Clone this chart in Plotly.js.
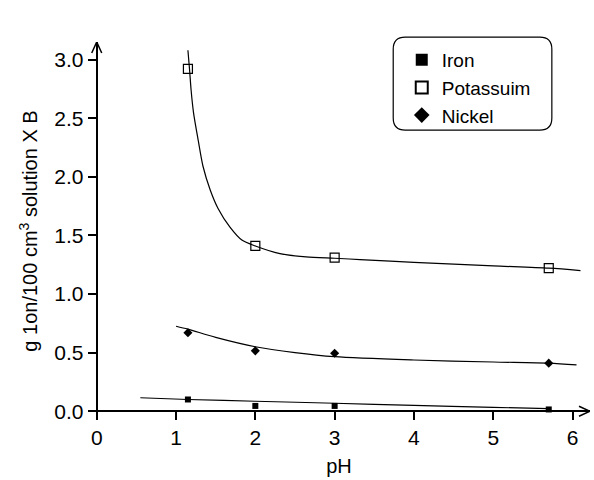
<!DOCTYPE html>
<html>
<head>
<meta charset="utf-8">
<script src="https://cdn.plot.ly/plotly-3.0.1.min.js"></script>
<style>html,body{margin:0;padding:0;background:#fff;}#chart{width:594px;height:480px;}</style>
</head>
<body>
<div id="chart"></div>
<script>
// Measured points
const phPoints = [1.15, 2.0, 3.0, 5.7];
const ironVals = [0.10, 0.045, 0.045, 0.015];
const potassiumVals = [2.92, 1.41, 1.31, 1.22];
const nickelVals = [0.67, 0.515, 0.495, 0.41];

// Fitted curves
const ironFitX = [0.55, 1.15, 2.0, 3.0, 4.0, 5.0, 5.7];
const ironFitY = [0.115, 0.10, 0.085, 0.068, 0.05, 0.033, 0.022];
const potFitX = [1.15, 1.17, 1.19, 1.22, 1.28, 1.34, 1.43, 1.53, 1.68, 1.83, 2.0, 2.31, 2.64, 3.0, 3.32, 4.0, 5.0, 5.7, 6.1];
const potFitY = [3.08, 2.92, 2.74, 2.55, 2.31, 2.09, 1.89, 1.73, 1.57, 1.46, 1.41, 1.345, 1.317, 1.305, 1.294, 1.27, 1.24, 1.22, 1.20];
const niFitX = [1.0, 1.15, 1.5, 2.0, 2.5, 3.0, 4.0, 5.0, 5.7, 6.05];
const niFitY = [0.725, 0.70, 0.63, 0.55, 0.50, 0.465, 0.437, 0.42, 0.41, 0.395];

const xTicks = [0, 1, 2, 3, 4, 5, 6];
const yTicks = [0.0, 0.5, 1.0, 1.5, 2.0, 2.5, 3.0];

const xr = [-0.11, 6.22];
const yr = [-0.075, 3.15];

const lineStyle = {color: '#000', width: 1.2, shape: 'spline', smoothing: 0.8};
const traces = [
  {x: ironFitX, y: ironFitY, mode: 'lines', line: lineStyle, showlegend: false, hoverinfo: 'skip'},
  {x: potFitX, y: potFitY, mode: 'lines', line: lineStyle, showlegend: false, hoverinfo: 'skip'},
  {x: niFitX, y: niFitY, mode: 'lines', line: lineStyle, showlegend: false, hoverinfo: 'skip'},
  {x: phPoints, y: ironVals, mode: 'markers', name: 'Iron',
   marker: {symbol: 'square', size: 6, color: '#000'}},
  {x: phPoints, y: potassiumVals, mode: 'markers', name: 'Potassuim',
   marker: {symbol: 'square-open', size: 9, color: '#000', line: {width: 1.2}}},
  {x: phPoints, y: nickelVals, mode: 'markers', name: 'Nickel',
   marker: {symbol: 'diamond', size: 7, color: '#000'}}
];

const fam = 'Liberation Sans, Arial, sans-serif';
const tickFont = {family: fam, size: 21, color: '#000'};
const titleFont = {family: fam, size: 20, color: '#000'};
const legFont = {family: fam, size: 19, color: '#000'};
const x0frac = (0 - xr[0]) / (xr[1] - xr[0]);
const y0frac = (0 - yr[0]) / (yr[1] - yr[0]);

const layout = {
  width: 594, height: 480,
  margin: {l: 88, r: 4, t: 42, b: 60},
  paper_bgcolor: '#fff', plot_bgcolor: '#fff',
  showlegend: true,
  font: tickFont,
  xaxis: {
    range: xr, tickvals: xTicks, ticktext: xTicks.map(String),
    showgrid: false, zeroline: false, showline: true, linecolor: '#000', linewidth: 2,
    ticks: 'outside', ticklen: 8, tickwidth: 2, tickcolor: '#000',
    anchor: 'free', position: y0frac,
    tickfont: tickFont,
    title: {text: 'pH', font: titleFont, standoff: 10}
  },
  yaxis: {
    range: yr, tickvals: yTicks, ticktext: yTicks.map(v => v.toFixed(1)),
    showgrid: false, zeroline: false, showline: true, linecolor: '#000', linewidth: 2,
    ticks: 'outside', ticklen: 8, tickwidth: 2, tickcolor: '#000',
    anchor: 'free', position: x0frac,
    tickfont: tickFont,
    title: {text: 'g 1on/100 cm<sup>3</sup> solution X B', font: titleFont, standoff: 10}
  },
  legend: {
    x: 0.625, y: 1.003, xanchor: 'left', yanchor: 'top',
    bgcolor: 'rgba(0,0,0,0)', borderwidth: 0,
    font: legFont, itemsizing: 'constant', tracegroupgap: 0
  },
  shapes: [
    {type: 'path', xref: 'x', yref: 'y', xsizemode: 'pixel', ysizemode: 'pixel',
     xanchor: xr[1], yanchor: 0, path: 'M -11 -5 L 0 0 L -11 5',
     line: {color: '#000', width: 1.5}},
    {type: 'path', xref: 'x', yref: 'y', xsizemode: 'pixel', ysizemode: 'pixel',
     xanchor: 0, yanchor: yr[1], path: 'M -5 -11 L 0 0 L 5 -11',
     line: {color: '#000', width: 1.5}},
    {type: 'path', xref: 'paper', yref: 'paper',
     path: 'M 0.632 1.013 L 0.900 1.013 Q 0.924 1.013 0.924 0.981 L 0.924 0.799 Q 0.924 0.767 0.900 0.767 L 0.632 0.767 Q 0.608 0.767 0.608 0.799 L 0.608 0.981 Q 0.608 1.013 0.632 1.013 Z',
     line: {color: '#000', width: 1.2}}
  ]
};

Plotly.newPlot('chart', traces, layout, {staticPlot: true});
</script>
</body>
</html>
